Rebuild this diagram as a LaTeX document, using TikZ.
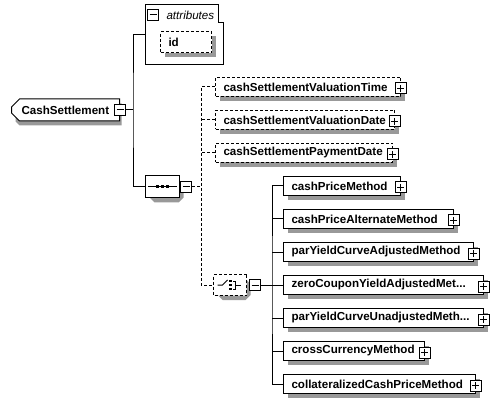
\documentclass[tikz,border=0pt]{standalone}
\usepackage{fontspec}
\setsansfont{Liberation Sans}
\usetikzlibrary{shapes.misc,positioning,calc}
\colorlet{ombre}{black!40}
\tikzset{
    elem/.style={draw,fill=white,anchor=west,minimum height=19pt,inner xsep=8pt,inner ysep=0pt,align=left,
        font=\sffamily\bfseries\fontsize{11.6}{13}\selectfont},
    optelem/.style={elem,dash pattern=on 3pt off 2pt},
    mbox/.style={draw,fill=white,minimum size=11pt,inner sep=0pt,path picture={
        \draw (path picture bounding box.north east) -- (path picture bounding box.south east) -- (path picture bounding box.south west);
        \draw ([xshift=2pt]path picture bounding box.west) -- ([xshift=-2pt]path picture bounding box.east);}},
    pbox/.style={draw,fill=white,minimum size=11pt,inner sep=0pt,path picture={
        \draw (path picture bounding box.north east) -- (path picture bounding box.south east) -- (path picture bounding box.south west);
        \draw ([xshift=2pt]path picture bounding box.west) -- ([xshift=-2pt]path picture bounding box.east)
        ([yshift=-2pt]path picture bounding box.north) -- ([yshift=2pt]path picture bounding box.south);}},
    octo/.style={chamfered rectangle,chamfered rectangle xsep=5pt,chamfered rectangle ysep=5pt,draw,fill=white,
        anchor=west,minimum width=34pt,minimum height=22pt,inner sep=0pt},
    pointille/.style={dash pattern=on 3pt off 2pt},
}
\begin{document}
\begin{tikzpicture}[x=1pt,y=-1pt,line width=1pt]
    %cadre en pixels
    \useasboundingbox (0,0) rectangle (499,404);
    %ombres (x gauche / y centre / largeur)
    \foreach \x/\y/\w in {215/87/185,215/120/179,215/153/177,283/186/117,283/219/170,283/252/190,
                          283/285/200,283/318/200,283/351/141,283/384/192}
        \fill[ombre] (\x+4.5,\y-5) rectangle +(\w,19);
    \fill[ombre] (164.5,36.5) rectangle +(51,21);
    \fill[ombre] (19.5,103.5) -- (121.5,103.5) -- (121.5,125.5) -- (19.5,125.5) -- (15.5,121.5) -- (15.5,107.5) -- cycle;
    \fill[ombre] (154.5,180.5) -- (178.5,180.5) -- (183.5,185.5) -- (183.5,197.5) -- (178.5,202.5) -- (154.5,202.5)
        -- (149.5,197.5) -- (149.5,185.5) -- cycle;
    \fill[ombre] (222.5,279) -- (245.5,279) -- (250.5,284) -- (250.5,295) -- (245.5,300) -- (222.5,300)
        -- (217.5,295) -- (217.5,284) -- cycle;

    %element racine
    \node[elem,chamfered rectangle,chamfered rectangle corners={north west,south west},chamfered rectangle xsep=4pt,
        chamfered rectangle ysep=4pt,minimum width=106pt,minimum height=22pt,inner xsep=6pt,text width=88pt] (cs) at (11,110) {CashSettlement};
    \node[mbox] (cs-m) at (cs.east) {};

    %attributs
    \node[minimum width=77pt,minimum height=59pt,anchor=north west,inner sep=0pt] (attr) at (145,5) {};
    \draw (attr.north west) -- ([xshift=-5pt]attr.north east) |- ([yshift=-18pt]attr.north east) -- (attr.south east) -- (attr.south west) -- cycle;
    \node[mbox] (attr-m) at (153,15) {};
    \node[right=7pt of attr-m,inner sep=0pt,font=\sffamily\itshape\fontsize{11.6}{13}\selectfont] (attr-t) {attributes};
    \node[optelem,text width=35pt,minimum height=21pt] (id) at (160,42.5) {id};

    %sequence
    \node[octo] (seq) at (145,187) {};
    \draw ([xshift=3pt]seq.west) -- ([xshift=-3pt]seq.east);
    \foreach \dx in {-5,0,5}
        \fill ($(seq.center)+(\dx,0)$) +(-1.5,-1.5) rectangle +(1.5,1.5);
    \node[mbox,right=0pt of seq] (seq-m) {};

    \node[optelem,text width=169pt] (vt) at (215,87) {cashSettlementValuationTime};
    \node[optelem,text width=163pt] (vd) at (215,120) {cashSettlementValuationDate};
    \node[optelem,text width=161pt] (pd) at (215,153) {cashSettlementPaymentDate};

    %choix
    \node[octo,pointille,minimum width=33pt,minimum height=21pt] (ch) at (213,285) {};
    \draw ($(ch.center)+(-12.5,0)$) -- +(5,0) -- +(10,-5);
    \foreach \dy in {-4,0,4}
        \fill ($(ch.center)+(0.5,\dy)$) +(-1.25,-1.25) rectangle +(1.25,1.25);
    \draw ($(ch.center)+(3,-4)$) -- +(2.5,0) -- +(2.5,8) -- +(0,8);
    \draw ($(ch.center)+(5.5,0)$) -- +(5,0);
    \node[mbox,right=2pt of ch] (ch-m) {};

    \node[elem,text width=101pt] (k1) at (283,186) {cashPriceMethod};
    \node[elem,text width=154pt] (k2) at (283,219) {cashPriceAlternateMethod};
    \node[elem,text width=174pt] (k3) at (283,252) {parYieldCurveAdjustedMethod};
    \node[elem,text width=184pt] (k4) at (283,285) {zeroCouponYieldAdjustedMet...};
    \node[elem,text width=184pt] (k5) at (283,318) {parYieldCurveUnadjustedMeth...};
    \node[elem,text width=125pt] (k6) at (283,351) {crossCurrencyMethod};
    \node[elem,text width=176pt] (k7) at (283,384) {collateralizedCashPriceMethod};

    \foreach \k in {vt,vd,pd,k1,k2,k3,k4,k5,k6,k7}
        \node[pbox] (\k-p) at ([xshift=-0.5pt,yshift=-1.5pt]\k.east) {};

    %liens
    \coordinate (b1) at ([xshift=7pt]cs-m.east);
    \draw (cs-m) -- (b1);
    \draw (attr.west) -| (b1) |- (seq.west);

    \coordinate (b2) at ([xshift=9pt]seq-m.east);
    \draw[pointille] (seq-m) -- (b2);
    \draw[pointille] (vt.west) -| (b2) |- (ch.west);
    \foreach \k in {vd,pd}
        \draw[pointille] (\k.west) -- (\k.west -| b2);

    \coordinate (b3) at ([xshift=11pt]ch-m.east);
    \draw (ch-m) -- (b3);
    \draw (k1.west) -| (b3) |- (k7.west);
    \foreach \k in {k2,k3,k4,k5,k6}
        \draw (\k.west) -- (\k.west -| b3);
\end{tikzpicture}
\end{document}
